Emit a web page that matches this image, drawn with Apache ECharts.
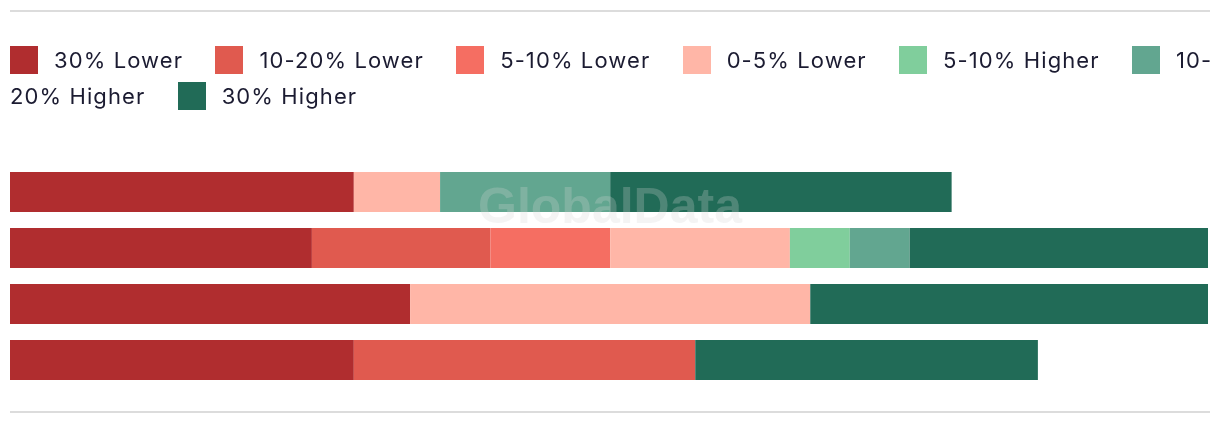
<!DOCTYPE html>
<html>
<head>
<meta charset="utf-8">
<script src="https://cdn.jsdelivr.net/npm/echarts@6/dist/echarts.min.js"></script>
<style>
  html, body { margin: 0; padding: 0; background: #fff; }
  #wrap { position: relative; width: 1220px; height: 426px; overflow: hidden; }
  #chart { position: absolute; left: 0; top: 0; width: 1220px; height: 426px; }
  #legend { position: absolute; left: 10px; top: 42px; width: 1204px; font-family: Inter, "Noto Sans", sans-serif; font-size: 22px; line-height: 36px; color: #1b1b31; letter-spacing: 1.1px; z-index: 2; }
  #legend .sw { display: inline-block; width: 28px; height: 28px; vertical-align: -6px; margin-right: 16px; }
  #legend .it { margin-right: 25px; }
</style>
</head>
<body>
<div id="wrap">
  <div id="chart"></div>
  <div id="legend"></div>
</div>
<script>
const categories = ['Row 1', 'Row 2', 'Row 3', 'Row 4'];
const seriesNames = ['30% Lower', '10-20% Lower', '5-10% Lower', '0-5% Lower', '5-10% Higher', '10-20% Higher', '30% Higher'];
const seriesColors = ['#b02d2f', '#e05a4f', '#f56e62', '#ffb6a7', '#80ce9c', '#62a690', '#216b57'];
const lower30 = [28.7, 25.2, 33.4, 28.7];
const lower10_20 = [0, 14.9, 0, 28.5];
const lower5_10 = [0, 10, 0, 0];
const lower0_5 = [7.2, 15, 33.4, 0];
const higher5_10 = [0, 5, 0, 0];
const higher10_20 = [14.2, 5, 0, 0];
const higher30 = [28.5, 24.9, 33.2, 28.6];
const seriesValues = [lower30, lower10_20, lower5_10, lower0_5, higher5_10, higher10_20, higher30];

// HTML flow legend (wraps like the original)
const legendEl = document.getElementById('legend');
seriesNames.forEach((n, i) => {
  const sw = document.createElement('span');
  sw.className = 'sw';
  sw.style.background = seriesColors[i];
  const t = document.createElement('span');
  t.className = 'it';
  t.textContent = n;
  legendEl.appendChild(sw);
  legendEl.appendChild(t);
  legendEl.appendChild(document.createTextNode(' '));
});

const chart = echarts.init(document.getElementById('chart'), null, { renderer: 'canvas' });
const option = {
  animation: false,
  grid: { left: 10, right: 12, top: 164, bottom: 38, containLabel: false },
  xAxis: { type: 'value', min: 0, max: 100, show: false },
  yAxis: { type: 'category', data: categories, inverse: true, show: false },
  legend: { show: false },
  series: seriesNames.map((n, i) => ({
    name: n,
    type: 'bar',
    stack: 'total',
    barWidth: 40,
    itemStyle: { color: seriesColors[i] },
    data: seriesValues[i]
  })),
  graphic: [
    { type: 'rect', left: 10, top: 10, shape: { width: 1200, height: 2 }, style: { fill: '#dcdcdc' }, silent: true },
    { type: 'rect', left: 10, top: 411, shape: { width: 1200, height: 2 }, style: { fill: '#dcdcdc' }, silent: true },
    { type: 'text', left: 'center', top: 184, z: 100, silent: true,
      style: { text: 'GlobalData', font: 'bold 50px "Liberation Sans", Arial, sans-serif', fill: 'rgba(213,213,213,0.26)' } }
  ]
};
chart.setOption(option);
</script>
</body>
</html>
